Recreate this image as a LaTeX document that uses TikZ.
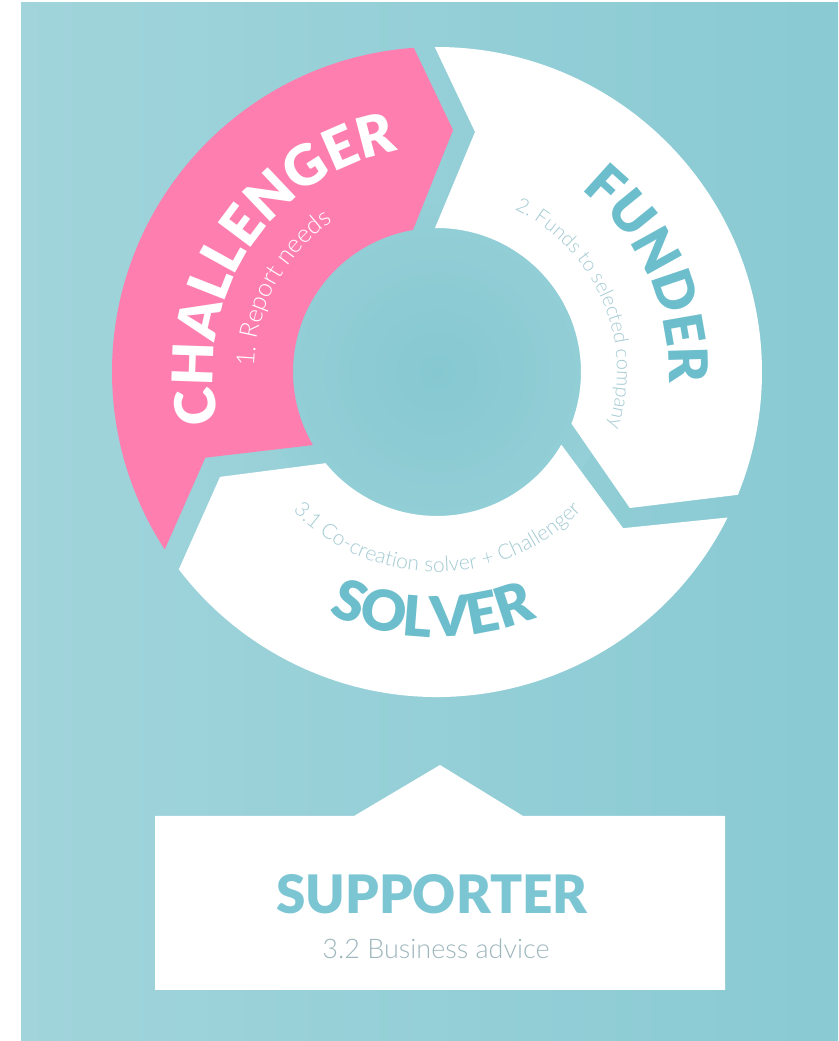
\documentclass[tikz,border=0pt]{standalone}
\usepackage{fontspec}
\usetikzlibrary{decorations.text}
\newfontfamily\tfont{Lato Black}
\newfontfamily\lfont{Lato Light}
\definecolor{bgL}{HTML}{A1D4DB}
\definecolor{bgR}{HTML}{89CAD3}
\definecolor{holeA}{HTML}{86C8D1}
\definecolor{holeB}{HTML}{95CFD7}
\definecolor{pinkc}{HTML}{FE7FAF}
\definecolor{titc}{HTML}{6DBECC}
\definecolor{supc}{HTML}{7CC6D3}
\definecolor{subc}{HTML}{A4CBD3}
\definecolor{advc}{HTML}{9EB7BD}
\tikzset{
  seg/.style={fill=white},
  segpink/.style={fill=pinkc},
  boxshape/.style={fill=white},
}
\begin{document}
\begin{tikzpicture}[x=1pt,y=1pt]
\useasboundingbox (0,0) rectangle (838,1041);
\fill[white] (0,0) rectangle (838,1041);
\shade[left color=bgL, right color=bgR] (21,0) rectangle (838,1038);
\begin{scope}[shift={(437,669)}]
  \shade[inner color=holeA, outer color=holeB] (0,0) circle[radius=175];
  % Challenger (pink)
  \path[segpink] (94.1:325) arc[start angle=94.1,end angle=213.1,radius=325]
     -- (200.3:247) -- (210.5:144) arc[start angle=210.5,end angle=99.6,radius=144]
     -- (86.2:242.5) -- cycle;
  % Funder
  \path[seg] (90.4:325) arc[start angle=90.4,end angle=-22.2,radius=325]
     -- (-35.2:236) -- (-21:144) arc[start angle=-21,end angle=90.8,radius=144]
     -- (81:243) -- cycle;
  % Solver
  \path[seg] (-26.6:325) arc[start angle=-26.6,end angle=-142.6,radius=325]
     -- (-154.2:241) -- (-140.7:144) arc[start angle=-140.7,end angle=-30.3,radius=144]
     -- (-40:243) -- cycle;
  % texts
  \path[decorate,decoration={text along path,text align=center,
     text={|\tfont\fontsize{56}{56}\selectfont\color{white}|CHALLENGER}}]
     (196.5:224) arc[start angle=196.5,end angle=96.5,radius=224];
  \path[decorate,decoration={text along path,text align=center,
     text={|\lfont\fontsize{25}{25}\selectfont\color{white}|1. Report needs}}]
     (201.5:183) arc[start angle=201.5,end angle=101.5,radius=183];
  \path[decorate,decoration={text along path,text align=center,
     text={|\tfont\fontsize{54}{54}\selectfont\color{titc}|FUNDER}}]
     (74.5:232) arc[start angle=74.5,end angle=-25.5,radius=232];
  \path[decorate,decoration={text along path,text align=center,
     text={|\lfont\fontsize{20}{20}\selectfont\color{subc}|2. Funds to selected company}}]
     (83.3:180) arc[start angle=83.3,end angle=-36.7,radius=180];
  \path[decorate,decoration={text along path,text align=center,
     text={|\tfont\fontsize{56}{56}\selectfont\color{titc}|SOLVER}}]
     (-141:265) arc[start angle=-141,end angle=-41,radius=265];
  \path[decorate,decoration={text along path,text align=center,
     text={|\lfont\fontsize{21}{21}\selectfont\color{subc}|3.1 Co-creation solver + Challenger}}]
     (-159.9:200) arc[start angle=-159.9,end angle=-19.9,radius=200];
\end{scope}
% Supporter box
\path[boxshape] (155,51) -- (155,225) -- (354,225) -- (440,276) -- (523,225)
   -- (725,225) -- (725,51) -- cycle;
\node[inner sep=0pt,text=supc,font=\tfont\fontsize{53}{53}\selectfont] (sup) at (432,147) {SUPPORTER};
\node[inner sep=0pt,text=advc,font=\lfont\fontsize{27}{27}\selectfont] (adv) at (436,92) {3.2 Business advice};
\end{tikzpicture}
\end{document}
